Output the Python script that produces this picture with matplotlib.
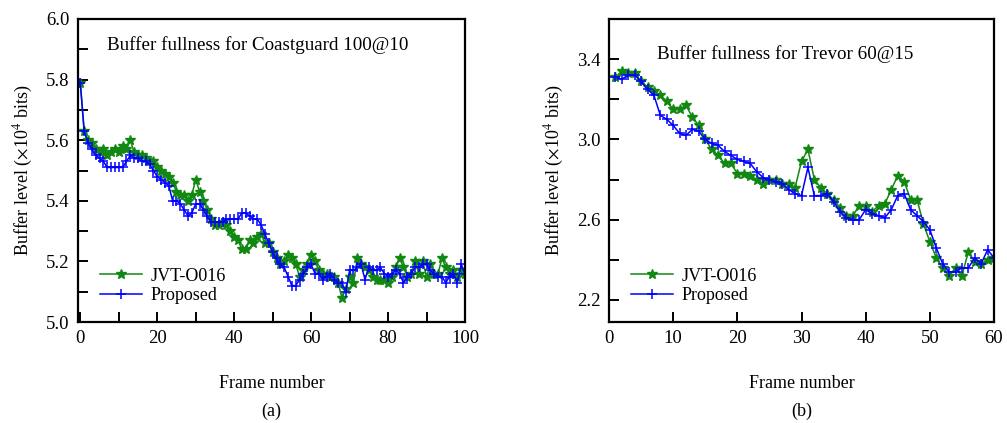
import matplotlib
matplotlib.use("Agg")
import matplotlib.pyplot as plt
from matplotlib.ticker import MultipleLocator

plt.rcParams['font.family'] = ['Liberation Serif', 'DejaVu Serif']
plt.rcParams['mathtext.fontset'] = 'stix'

# (a) Coastguard 100@10, frames 0..100
frames_a = list(range(0, 101))
jvt_a = [5.79, 5.63, 5.60, 5.59, 5.57, 5.56, 5.57, 5.55, 5.56, 5.57,
         5.56, 5.58, 5.57, 5.60, 5.56, 5.55, 5.55, 5.54, 5.53, 5.53,
         5.51, 5.50, 5.49, 5.48, 5.46, 5.43, 5.42, 5.42, 5.40, 5.42,
         5.47, 5.43, 5.40, 5.37, 5.34, 5.32, 5.32, 5.33, 5.32, 5.30,
         5.28, 5.27, 5.24, 5.24, 5.27, 5.26, 5.28, 5.29, 5.26, 5.26,
         5.23, 5.21, 5.19, 5.20, 5.22, 5.21, 5.19, 5.15, 5.17, 5.19,
         5.22, 5.20, 5.17, 5.16, 5.16, 5.15, 5.15, 5.13, 5.08, 5.11,
         5.15, 5.13, 5.21, 5.19, 5.18, 5.17, 5.15, 5.14, 5.14, 5.14,
         5.13, 5.15, 5.18, 5.21, 5.18, 5.15, 5.16, 5.20, 5.16, 5.20,
         5.15, 5.19, 5.16, 5.16, 5.21, 5.18, 5.16, 5.17, 5.15, 5.17,
         5.16]
prop_a = [5.79, 5.63, 5.59, 5.57, 5.55, 5.54, 5.53, 5.51, 5.51, 5.51,
          5.51, 5.51, 5.53, 5.55, 5.54, 5.54, 5.53, 5.53, 5.52, 5.50,
          5.48, 5.47, 5.46, 5.45, 5.40, 5.40, 5.39, 5.37, 5.35, 5.36,
          5.39, 5.39, 5.37, 5.35, 5.33, 5.33, 5.33, 5.33, 5.34, 5.34,
          5.34, 5.34, 5.36, 5.36, 5.35, 5.34, 5.34, 5.32, 5.29, 5.26,
          5.23, 5.21, 5.19, 5.18, 5.15, 5.12, 5.12, 5.14, 5.16, 5.18,
          5.19, 5.16, 5.16, 5.14, 5.15, 5.16, 5.14, 5.13, 5.13, 5.10,
          5.17, 5.17, 5.18, 5.19, 5.14, 5.18, 5.17, 5.17, 5.18, 5.16,
          5.15, 5.16, 5.17, 5.16, 5.13, 5.15, 5.16, 5.18, 5.18, 5.19,
          5.19, 5.17, 5.16, 5.15, 5.15, 5.13, 5.15, 5.16, 5.13, 5.19,
          5.16]

# (b) Trevor 60@15, frames 1..60
frames_b = list(range(1, 61))
jvt_b = [3.31, 3.34, 3.33, 3.33, 3.29, 3.26, 3.24, 3.22, 3.19, 3.15,
         3.15, 3.17, 3.11, 3.07, 3.00, 2.95, 2.92, 2.88, 2.88, 2.83,
         2.83, 2.82, 2.80, 2.78, 2.80, 2.80, 2.78, 2.78, 2.76, 2.89,
         2.95, 2.80, 2.76, 2.73, 2.70, 2.66, 2.62, 2.62, 2.67, 2.67,
         2.64, 2.67, 2.68, 2.75, 2.82, 2.79, 2.70, 2.70, 2.58, 2.49,
         2.41, 2.36, 2.32, 2.36, 2.32, 2.44, 2.39, 2.38, 2.40, 2.41]
prop_b = [3.31, 3.30, 3.32, 3.32, 3.29, 3.25, 3.22, 3.12, 3.10, 3.07,
          3.03, 3.02, 3.05, 3.04, 3.00, 2.98, 2.97, 2.94, 2.92, 2.90,
          2.89, 2.88, 2.84, 2.81, 2.80, 2.79, 2.78, 2.75, 2.73, 2.72,
          2.86, 2.72, 2.72, 2.73, 2.69, 2.64, 2.61, 2.60, 2.60, 2.65,
          2.63, 2.62, 2.61, 2.65, 2.72, 2.73, 2.65, 2.62, 2.59, 2.55,
          2.46, 2.38, 2.34, 2.34, 2.36, 2.36, 2.41, 2.38, 2.45, 2.41]

green = "#118811"
blue = "#0000ff"
ylab = r"Buffer level ($\times$10$^4$ bits)"

fig = plt.figure(figsize=(10.07, 4.23), dpi=100)
W, H = 1007.0, 423.0
ax1 = fig.add_axes([78 / W, 1 - 322 / H, (465 - 78) / W, (322 - 19) / H])
ax2 = fig.add_axes([609 / W, 1 - 322 / H, (994 - 609) / W, (322 - 19) / H])


def style_axes(ax):
    for s in ax.spines.values():
        s.set_linewidth(1.6)
    ax.tick_params(which='both', direction='in', length=7, width=1.4,
                   labelsize=13.5, top=False, right=False, pad=6)


def add_legend(ax):
    ax.legend(loc='lower left', bbox_to_anchor=(0.015, 0.005), frameon=False, fontsize=13,
              handlelength=2.3, handletextpad=0.5, labelspacing=0.15)


# panel (a)
ax1.plot(frames_a, jvt_a, color=green, lw=1.1, marker='*', ms=7.5, label="JVT-O016")
ax1.plot(frames_a, prop_a, color=blue, lw=1.1, marker='+', ms=7.5, mew=1.1, label="Proposed")
ax1.set_xlim(-0.6, 100)
ax1.set_ylim(5.0, 6.0)
ax1.xaxis.set_major_locator(MultipleLocator(20))
ax1.xaxis.set_minor_locator(MultipleLocator(10))
ax1.yaxis.set_major_locator(MultipleLocator(0.2))
ax1.yaxis.set_minor_locator(MultipleLocator(0.1))
ax1.yaxis.set_major_formatter(plt.FormatStrFormatter('%.1f'))
style_axes(ax1)
ax1.text(0.075, 0.915, "Buffer fullness for Coastguard 100@10", transform=ax1.transAxes,
         fontsize=13.7, ha='left', va='center')
add_legend(ax1)
ax1.set_xlabel("Frame number", fontsize=13, labelpad=20)
ax1.set_ylabel(ylab, fontsize=13, labelpad=8)
fig.text((78 + 465) / 2 / W, 1 - 411 / H, "(a)", fontsize=13, ha='center', va='center')

# panel (b)
ax2.plot(frames_b, jvt_b, color=green, lw=1.1, marker='*', ms=7.5, label="JVT-O016")
ax2.plot(frames_b, prop_b, color=blue, lw=1.1, marker='+', ms=7.5, mew=1.1, label="Proposed")
ax2.set_xlim(0, 60)
ax2.set_ylim(2.09, 3.6)
ax2.xaxis.set_major_locator(MultipleLocator(10))
ax2.yaxis.set_major_locator(MultipleLocator(0.4))
ax2.yaxis.set_minor_locator(MultipleLocator(0.2))
ax2.set_yticks([2.2, 2.6, 3.0, 3.4])
ax2.yaxis.set_major_formatter(plt.FormatStrFormatter('%.1f'))
style_axes(ax2)
ax2.text(0.458, 0.885, "Buffer fullness for Trevor 60@15", transform=ax2.transAxes,
         fontsize=13.7, ha='center', va='center')
add_legend(ax2)
ax2.set_xlabel("Frame number", fontsize=13, labelpad=20)
ax2.set_ylabel(ylab, fontsize=13, labelpad=8)
fig.text((609 + 994) / 2 / W, 1 - 411 / H, "(b)", fontsize=13, ha='center', va='center')

fig.savefig("out.png", dpi=100)
